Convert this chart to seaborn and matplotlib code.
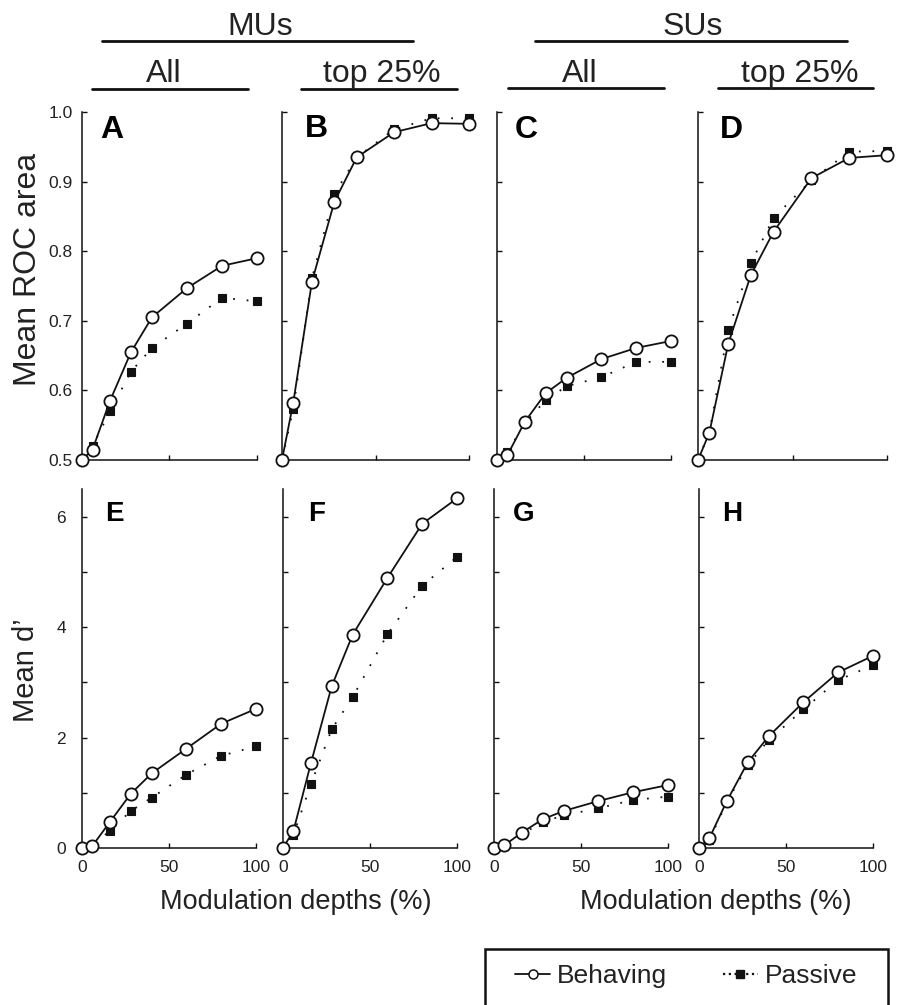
import numpy as np
import pandas as pd
import matplotlib
matplotlib.use('Agg')
import matplotlib.pyplot as plt
import seaborn as sns
from matplotlib.lines import Line2D
from matplotlib.patches import Rectangle
from matplotlib import font_manager

# ---------------- data ----------------
depths = [0, 6, 16, 28, 40, 60, 80, 100]

roc_mu_all_beh = [0.50, 0.515, 0.585, 0.655, 0.705, 0.747, 0.779, 0.790]
roc_mu_all_pas = [0.50, 0.520, 0.570, 0.627, 0.661, 0.696, 0.733, 0.728]
roc_mu_top_beh = [0.50, 0.582, 0.756, 0.871, 0.935, 0.971, 0.984, 0.983]
roc_mu_top_pas = [0.50, 0.573, 0.761, 0.882, 0.935, 0.975, 0.991, 0.991]
roc_su_all_beh = [0.50, 0.507, 0.555, 0.596, 0.618, 0.645, 0.661, 0.671]
roc_su_all_pas = [0.50, 0.511, 0.553, 0.586, 0.606, 0.619, 0.641, 0.641]
roc_su_top_beh = [0.50, 0.539, 0.667, 0.766, 0.828, 0.905, 0.934, 0.938]
roc_su_top_pas = [0.50, 0.540, 0.687, 0.783, 0.848, 0.902, 0.943, 0.944]

d_mu_all_beh = [0.0, 0.04, 0.47, 0.98, 1.35, 1.80, 2.25, 2.52]
d_mu_all_pas = [0.0, 0.05, 0.31, 0.67, 0.91, 1.33, 1.67, 1.84]
d_mu_top_beh = [0.0, 0.31, 1.53, 2.93, 3.86, 4.89, 5.87, 6.33]
d_mu_top_pas = [0.0, 0.24, 1.15, 2.15, 2.73, 3.87, 4.75, 5.27]
d_su_all_beh = [0.0, 0.05, 0.28, 0.52, 0.67, 0.85, 1.01, 1.14]
d_su_all_pas = [0.0, 0.06, 0.25, 0.47, 0.59, 0.72, 0.87, 0.93]
d_su_top_beh = [0.0, 0.18, 0.85, 1.55, 2.02, 2.64, 3.18, 3.48]
d_su_top_pas = [0.0, 0.15, 0.83, 1.50, 1.95, 2.51, 3.04, 3.31]

panel_letters = ['A', 'B', 'C', 'D', 'E', 'F', 'G', 'H']
group_titles = ['MUs', 'SUs']
sub_titles = ['All', 'top 25%', 'All', 'top 25%']
roc_ticks = [0.5, 0.6, 0.7, 0.8, 0.9, 1.0]
roc_ticklabels = ['0.5', '0.6', '0.7', '0.8', '0.9', '1.0']
d_ticks = [0, 1, 2, 3, 4, 5, 6]
d_ticklabels = ['0', '', '2', '', '4', '', '6']
x_ticks = [0, 50, 100]
x_ticklabels = ['0', '50', '100']
series_names = ['Behaving', 'Passive']

# ---------------- style ----------------
sns.set_theme(style='ticks')
plt.rcParams['font.family'] = ['Liberation Sans', 'DejaVu Sans']
TXT = '#222222'
INK = '#111111'


def has_font(name):
    try:
        font_manager.findfont(font_manager.FontProperties(family=name), fallback_to_default=False)
        return True
    except Exception:
        return False


if has_font('Liberation Sans Narrow'):
    tick_family = ['Liberation Sans Narrow', 'DejaVu Sans']
    tick_size = 13
else:
    tick_family = ['Liberation Sans', 'DejaVu Sans']
    tick_size = 12.5

W, H = 901, 1005
fig = plt.figure(figsize=(W / 100, H / 100), dpi=100)
fig.patch.set_facecolor('white')


def fx(x):
    return x / W


def fy(y):
    return 1 - y / H


def axes_px(x0, y0, x1, y1):
    return fig.add_axes([fx(x0), fy(y1), (x1 - x0) / W, (y1 - y0) / H])


# panel pixel boxes (left, top, right, bottom)
boxes = [
    (82, 112, 257, 460), (282, 112, 469, 460), (497, 112, 671, 460), (698, 112, 887, 460),
    (82, 489, 256, 848), (283, 489, 457, 848), (494, 489, 668, 848), (699, 489, 873, 848),
]
letter_pos = [(100, 138), (305, 137), (515, 138), (720, 138),
              (105, 521), (308, 521), (513, 521), (722, 521)]

beh_sets = [roc_mu_all_beh, roc_mu_top_beh, roc_su_all_beh, roc_su_top_beh,
            d_mu_all_beh, d_mu_top_beh, d_su_all_beh, d_su_top_beh]
pas_sets = [roc_mu_all_pas, roc_mu_top_pas, roc_su_all_pas, roc_su_top_pas,
            d_mu_all_pas, d_mu_top_pas, d_su_all_pas, d_su_top_pas]

dot_style = (0, (1, 6.5))

for i in range(8):
    ax = axes_px(*boxes[i])
    ax.set_facecolor('white')
    top = i < 4
    df = pd.DataFrame({'depth': depths, 'Behaving': beh_sets[i], 'Passive': pas_sets[i]})
    sns.lineplot(data=df, x='depth', y='Passive', ax=ax, color=INK, lw=1.3,
                 linestyle=dot_style, marker='s', markersize=6.2, markerfacecolor=INK,
                 markeredgecolor=INK, markeredgewidth=0.8, clip_on=False, zorder=3,
                 errorbar=None, sort=False)
    sns.lineplot(data=df, x='depth', y='Behaving', ax=ax, color=INK, lw=1.3,
                 marker='o', markersize=8.8, markerfacecolor='white',
                 markeredgecolor=INK, markeredgewidth=1.3, clip_on=False, zorder=4,
                 errorbar=None, sort=False)
    ax.set_xlim(0, 100)
    if top:
        ax.set_ylim(0.5, 1.0)
        ax.set_yticks(roc_ticks)
        ax.set_yticklabels(roc_ticklabels if i == 0 else [''] * len(roc_ticks))
        ypad = 6.5
    else:
        ax.set_ylim(0, 6.5)
        ax.set_yticks(d_ticks)
        ax.set_yticklabels(d_ticklabels if i == 4 else [''] * len(d_ticks))
        ypad = 11.5
    ax.set_xticks(x_ticks)
    ax.set_xticklabels(x_ticklabels if not top else [''] * 3)
    ax.set_xlabel('')
    ax.set_ylabel('')
    for s in ['top', 'right']:
        ax.spines[s].set_visible(False)
    for s in ['left', 'bottom']:
        ax.spines[s].set_linewidth(1.1)
        ax.spines[s].set_color(INK)
    ax.tick_params(axis='both', direction='in', length=3.5, width=1.0, color=INK,
                   labelcolor=TXT, labelsize=tick_size)
    ax.tick_params(axis='y', pad=ypad)
    ax.tick_params(axis='x', pad=8.5)
    for lab in ax.get_xticklabels() + ax.get_yticklabels():
        lab.set_family(tick_family)
    lx, ly = letter_pos[i]
    fig.text(fx(lx), fy(ly), panel_letters[i], fontsize=23 if top else 20,
             fontweight='bold', color='black', ha='left', va='baseline')

# ---------------- headers ----------------
hdr_kw = dict(fontsize=23, color=TXT, ha='center', va='baseline')
fig.text(fx(260), fy(35), group_titles[0], **hdr_kw)
fig.text(fx(693), fy(35), group_titles[1], **hdr_kw)
for cx, t in zip([164, 382, 580, 800], sub_titles):
    fig.text(fx(cx), fy(82), t, **hdr_kw)

header_lines = [(102, 413, 41), (535, 847, 41),
                (92, 248, 89), (301, 457, 89), (508, 664, 88), (718, 873, 88)]
for x0, x1, y in header_lines:
    fig.add_artist(Line2D([fx(x0), fx(x1)], [fy(y), fy(y)], transform=fig.transFigure,
                          color=INK, lw=2.0))

# ---------------- axis titles ----------------
fig.text(fx(28), fy(269), 'Mean ROC area', rotation=90, fontsize=23, color=TXT,
         ha='center', va='center')
fig.text(fx(26), fy(670), 'Mean d\u2019', rotation=90, fontsize=21, color=TXT,
         ha='center', va='center')
fig.text(fx(296), fy(909), 'Modulation depths (%)', fontsize=19.5, color=TXT,
         ha='center', va='baseline')
fig.text(fx(716), fy(909), 'Modulation depths (%)', fontsize=19.5, color=TXT,
         ha='center', va='baseline')

# ---------------- legend ----------------
handles = [
    Line2D([], [], color=INK, lw=1.3, marker='o', markersize=6.5, markerfacecolor='white',
           markeredgecolor=INK, markeredgewidth=1.1),
    Line2D([], [], color=INK, lw=1.6, linestyle=(0, (1, 1.6)), marker='s', markersize=6,
           markerfacecolor=INK, markeredgecolor=INK),
]
fig.legend(handles, series_names, loc='center', bbox_to_anchor=(fx(686), fy(976)),
           ncol=2, frameon=False, fontsize=19, handlelength=1.35, handletextpad=0.25,
           columnspacing=2.1, labelcolor=TXT)
fig.add_artist(Rectangle((fx(485), fy(1015)), (888 - 485) / W, (1015 - 949) / H,
                         transform=fig.transFigure, fill=False, edgecolor=INK, lw=1.8))

fig.savefig('out.png', dpi=100)
